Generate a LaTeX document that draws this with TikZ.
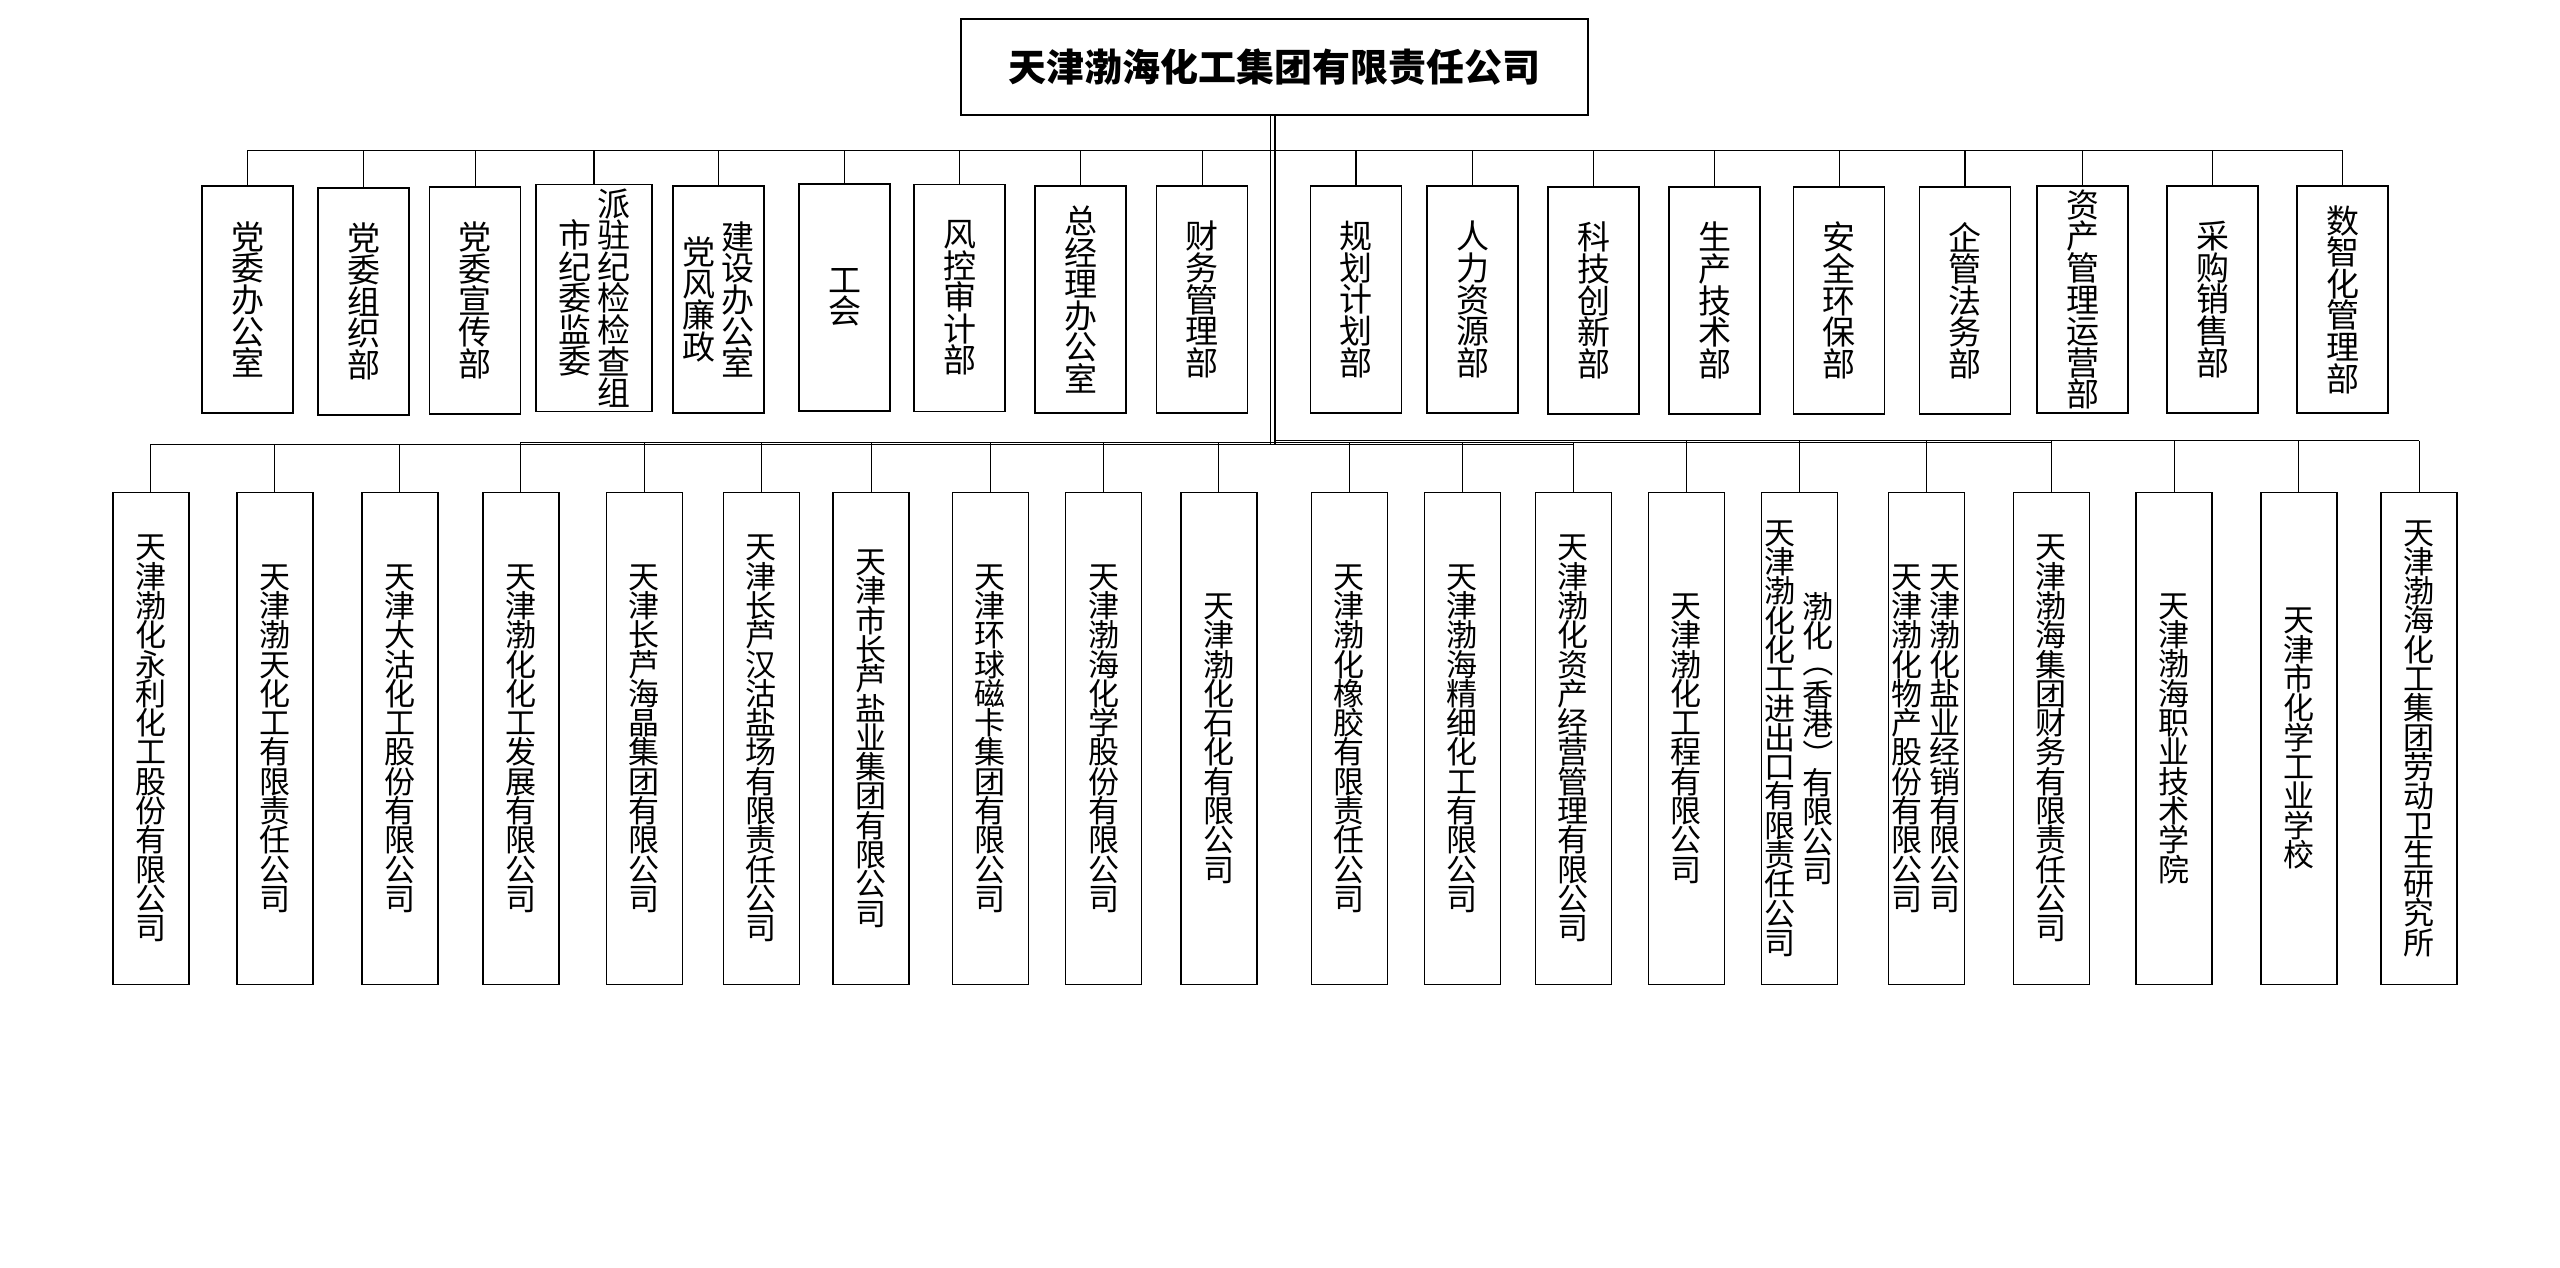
\documentclass[tikz,border=0pt]{standalone}
\usepackage{fontspec}
\usepackage{graphicx}
\setmainfont{Noto Sans CJK SC}
\ExplSyntaxOn
\cs_new:Npn \__vt_col:n #1
  {
    \ensuremath{\vcenter{\lineskiplimit=-\maxdimen \lineskip=0pt
      \tl_map_inline:nn {#1} { \hbox_to_wd:nn {1em} { \hss ##1 \hss } } }}
  }
\NewDocumentCommand\vcol{m}{ \exp_args:Ne \__vt_col:n {#1} }
\ExplSyntaxOff
\NewDocumentCommand\vpl{}{\raisebox{0.12em}{\rotatebox[origin=c]{-90}{（}}}
\NewDocumentCommand\vpr{}{\raisebox{-0.05em}{\rotatebox[origin=c]{-90}{）}}}
\begin{document}
\begin{tikzpicture}[x=0.5pt,y=-0.5pt,
  box/.style={draw,line width=0.8pt,inner sep=0pt,fill=white},
  dept/.style={box,minimum width=45.5pt,minimum height=113.5pt,font=\fontsize{16.5pt}{15.8pt}\selectfont},
  comp/.style={box,minimum width=38pt,minimum height=246pt,font=\fontsize{15.5pt}{14.65pt}\selectfont},
  thinln/.style={line width=0.4pt},
  thickln/.style={line width=0.85pt}]
\useasboundingbox (0,0) rectangle (2560,1268);
\fill[white] (0,0) rectangle (2560,1268);

% bus coordinates
\coordinate (busD) at (0,150.5);
\coordinate (busA) at (0,444);
\coordinate (busB) at (0,442);
\coordinate (busC) at (0,440.5);
\coordinate (trL) at (1270.7,444);
\coordinate (trR) at (1275,444);

% top node
\node[box,line width=0.9pt,minimum width=313.5pt,minimum height=48pt,
      font=\fontsize{19pt}{22pt}\selectfont\bfseries] (top) at (1274.5,67) {天津渤海化工集团有限责任公司};

% departments
\foreach \i/\x/\y/\t in {1/247.5/299.5/党委办公室, 2/363.5/301.5/党委组织部, 3/475/300.5/党委宣传部,
  6/844.5/297.5/工会, 7/959.5/298/风控审计部, 8/1080.5/299.5/总经理办公室, 9/1202/299.5/财务管理部,
  10/1356/299.5/规划计划部, 11/1472.5/299.5/人力资源部, 12/1593.5/300.5/科技创新部,
  13/1714.5/300.5/生产技术部, 14/1839/300.5/安全环保部, 15/1965/300.5/企管法务部,
  16/2082.5/299.5/资产管理运营部, 17/2212.5/299.5/采购销售部, 18/2342.5/299.5/数智化管理部}
  {\node[dept] (d\i) at (\x,\y) {\vcol{\t}};}
\node[dept,minimum width=58pt] (d4) at (594,298) {\vcol{市纪委监委}\hspace{3pt}\vcol{派驻纪检检查组}};
\node[dept] (d5) at (718.5,299.5) {\vcol{党风廉政}\hspace{3pt}\vcol{建设办公室}};

% companies
\foreach \i/\x/\t in {1/150.8/天津渤化永利化工股份有限公司, 2/274.7/天津渤天化工有限责任公司,
  3/399.7/天津大沽化工股份有限公司, 4/520.8/天津渤化化工发展有限公司, 5/644.3/天津长芦海晶集团有限公司,
  6/761.3/天津长芦汉沽盐场有限责任公司, 7/871.1/天津市长芦盐业集团有限公司, 8/990.4/天津环球磁卡集团有限公司,
  9/1103.6/天津渤海化学股份有限公司, 10/1218.8/天津渤化石化有限公司, 11/1349.3/天津渤化橡胶有限责任公司,
  12/1462.4/天津渤海精细化工有限公司, 13/1573.3/天津渤化资产经营管理有限公司, 14/1686.3/天津渤化工程有限公司,
  17/2051.3/天津渤海集团财务有限责任公司, 18/2174/天津渤海职业技术学院, 19/2298.7/天津市化学工业学校,
  20/2419/天津渤海化工集团劳动卫生研究所}
  {\node[comp] (c\i) at (\x,738.6) {\vcol{\t}};}
\node[comp] (c15) at (1799.3,738.6) {\vcol{天津渤化化工进出口有限责任公司}\hspace{3.5pt}\vcol{渤化\vpl 香港\vpr 有限公司}};
\node[comp] (c16) at (1926.4,738.6) {\vcol{天津渤化物产股份有限公司}\hspace{3.5pt}\vcol{天津渤化盐业经销有限公司}};

% trunk
\draw[thinln] (top.south -| trL) -- (trL);
\draw[thickln] (top.south -| trR) -- (trR);

% department bus and drops
\draw[thinln] (d1.north |- busD) -- (d18.north |- busD);
\draw[thickln] (d2.north |- busD) -- (d15.north |- busD);
\foreach \i in {1,3,5,6,9,11,14,16,17,18} \draw[thinln] (d\i.north |- busD) -- (d\i.north);
\foreach \i in {2,4,7,8,10,12,13,15} \draw[thickln] (d\i.north |- busD) -- (d\i.north);

% company buses and drops
\draw[thinln] (c1.north |- busA) -- (c13.north |- busA);
\draw[thinln] (c4.north |- busB) -- (c17.north |- busB);
\draw[thinln] (trR |- busC) -- (c20.north |- busC);
\foreach \i in {1,2,3} \draw[thinln] (c\i.north |- busA) -- (c\i.north);
\foreach \i in {4,5,6,7,8,9,10,11,12,13} \draw[thinln] (c\i.north |- busB) -- (c\i.north);
\foreach \i in {14,15,16,17,18,19,20} \draw[thinln] (c\i.north |- busC) -- (c\i.north);
\end{tikzpicture}
\end{document}
